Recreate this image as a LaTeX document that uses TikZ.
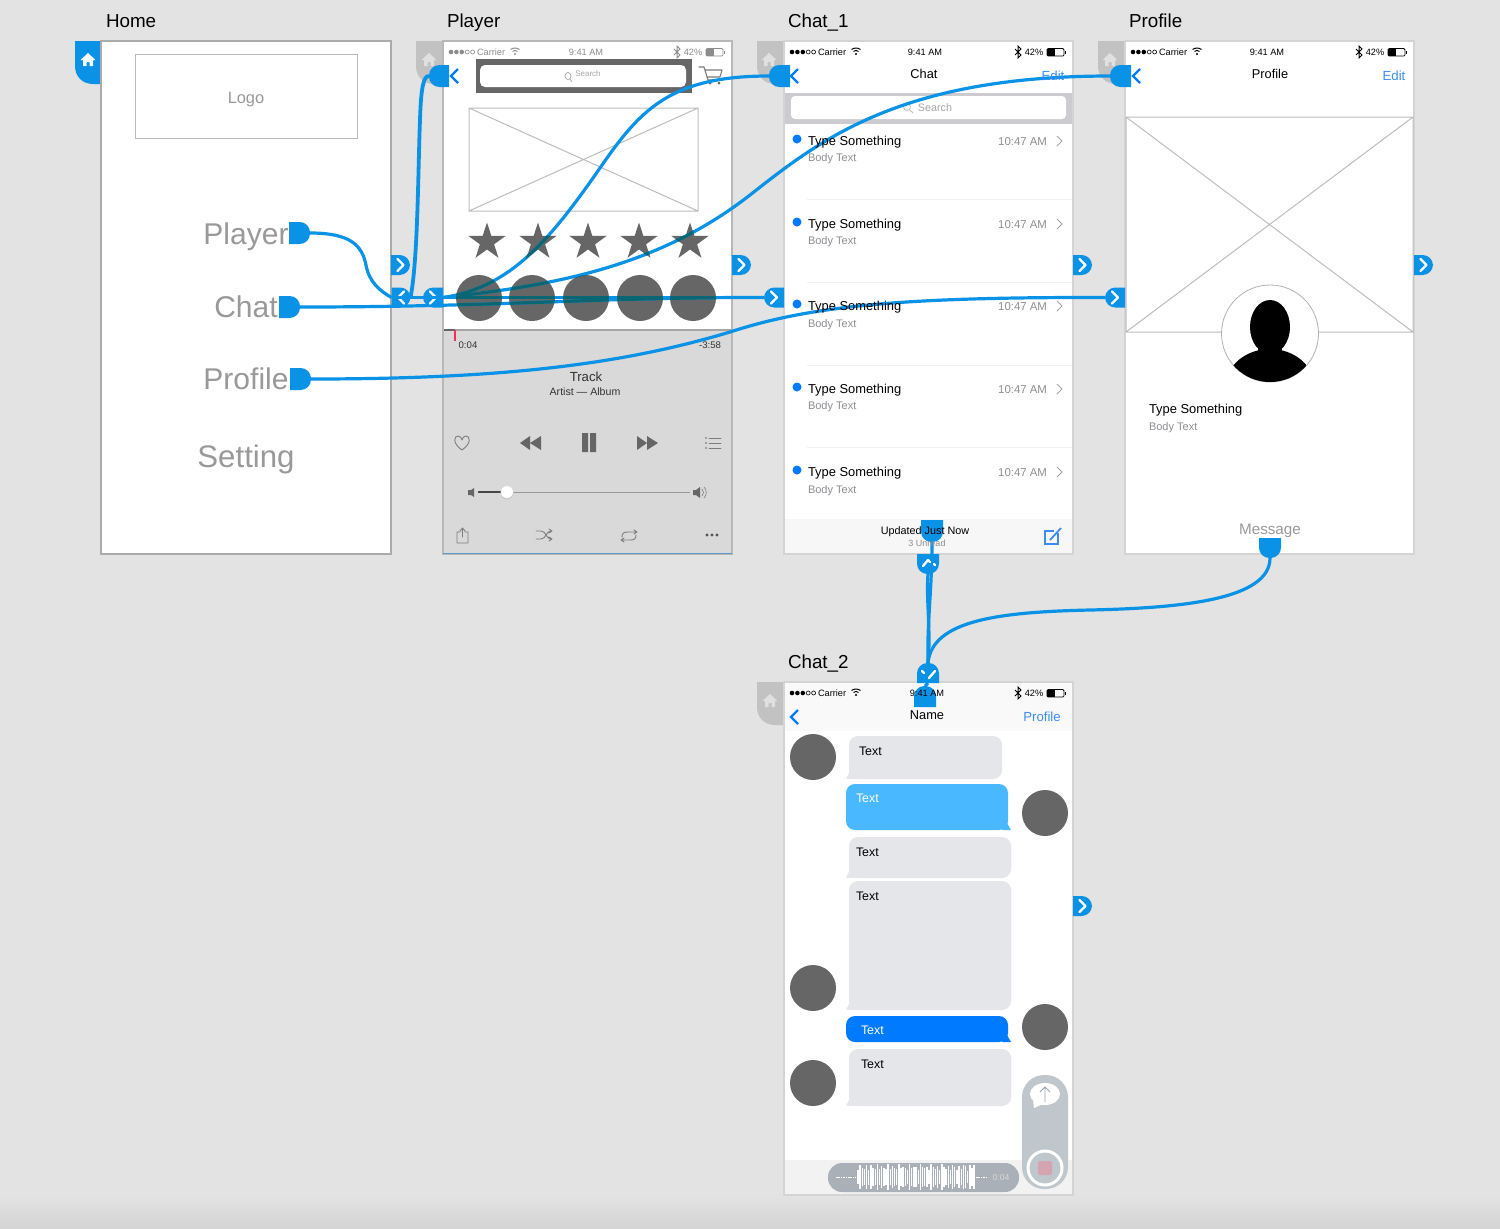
\documentclass[tikz,border=0pt]{standalone}
\usepackage{fontspec}
\setmainfont{Liberation Sans}
\usetikzlibrary{shapes.geometric}
\definecolor{bgc}{HTML}{E3E3E3}
\definecolor{hblue}{HTML}{0A92E6}
\definecolor{hdark}{HTML}{0A6672}
\definecolor{iblue}{HTML}{007AFF}
\definecolor{lblue}{HTML}{3B8CF5}
\definecolor{dk}{HTML}{666666}
\definecolor{gt}{HTML}{8E8E93}
\definecolor{hm}{HTML}{999999}
\definecolor{btn}{HTML}{E5E6EA}
\definecolor{sband}{HTML}{CBCBD0}
\definecolor{pillA}{HTML}{A9B0B8}
\definecolor{pillB}{HTML}{C0C7CC}
\definecolor{redsq}{HTML}{D4A5B0}
\definecolor{arrowc}{HTML}{9AA5B5}
\definecolor{sky}{HTML}{4AB8FF}
\definecolor{pbot}{HTML}{5B9BC4}
\definecolor{redl}{HTML}{FF2D55}
\newcounter{tc}
\newcommand\fs[1]{\fontsize{#1}{#1}\selectfont}
\newcommand\tx[4][]{\stepcounter{tc}\node[txt,#1] (t\thetc) at (#2,#3) {\setbox0=\hbox{#4}\ht0=0pt \dp0=0pt \rule{0pt}{.72em}\box0};}
\newcommand\hb[5]{\node[hbx,minimum width=#4*0.5pt,minimum height=#5*0.5pt] (#1) at (#2,#3) {};}
\newcommand\roundL[1]{\fill[hblue] (#1.north east) [rounded corners=5.2pt] -- (#1.north west) -- (#1.south west) [sharp corners] -- (#1.south east) -- cycle;}
\newcommand\roundR[1]{\fill[hblue] (#1.north west) [rounded corners=5.2pt] -- (#1.north east) -- (#1.south east) [sharp corners] -- (#1.south west) -- cycle;}
\newcommand\roundB[1]{\fill[hblue] (#1.north west) -- (#1.north east) [rounded corners=5.2pt] -- (#1.south east) -- (#1.south west) [sharp corners] -- cycle;}
\newcommand\roundT[1]{\fill[hblue] (#1.south west) -- (#1.south east) [rounded corners=5.2pt] -- (#1.north east) -- (#1.north west) [sharp corners] -- cycle;}
\newcommand\chevR[1]{\draw[chev] ([shift={(-3,-6)}]#1.center) -- ([shift={(3,0)}]#1.center) -- ([shift={(-3,6)}]#1.center);}
\newcommand\chevL[1]{\draw[chev] ([shift={(3,-6)}]#1.center) -- ([shift={(-3,0)}]#1.center) -- ([shift={(3,6)}]#1.center);}
\newcommand\house[3]{\fill[#3,shift={(#1,#2)}] (0,-7) -- (7.5,0) -- (5,0) -- (5,6) -- (1.5,6) -- (1.5,2) -- (-1.5,2) -- (-1.5,6) -- (-5,6) -- (-5,0) -- (-7.5,0) -- cycle;}
\newcommand\sidetab[3]{\fill[#1] (#2,#3) -- (#2,#3+25) .. controls (#2,#3+36) and (#2+8,#3+43) .. (#2+18,#3+43) -- (#2+27,#3+43) -- (#2+27,#3) -- cycle;}
\newcommand\statusbar[4]{%
 \begin{scope}[shift={(#1,#2)}]
 \foreach \i in {0,1,2} \fill[#3] (8+5.4*\i,0) circle (2.3);
 \foreach \i in {3,4} \draw[#3,line width=.3pt] (8+5.4*\i,0) circle (2);
 \tx[anchor=west,text=#3,font=\fs{4.6}]{34}{0}{Carrier}
 \draw[#3,line width=.5pt] (67.5,-2.5) .. controls (70,-4.5) and (74,-4.5) .. (76.5,-2.5);
 \draw[#3,line width=.5pt] (69.5,-.5) .. controls (71,-2) and (73,-2) .. (74.5,-.5);
 \fill[#3] (72,2) circle (1.1);
 \tx[text=#3,font=\fs{4.6}]{#4}{0}{9:41 AM}
 \draw[#3,line width=.5pt] (231,-3) -- (237,3) -- (234,6) -- (234,-6) -- (237,-3) -- (231,3);
 \tx[text=#3,font=\fs{4.6}]{250}{0}{42\%}
 \draw[#3,line width=.4pt,rounded corners=.6pt] (263,-3.5) rectangle (280,4);
 \fill[#3] (263,-3.5) rectangle (271,4);
 \fill[#3] (281,-1.5) rectangle (282.2,2);
 \end{scope}}
\newcommand\backchev[2]{\draw[iblue,line width=1.2pt,line join=miter] (#1+7,#2-7) -- (#1,#2) -- (#1+7,#2+7);}
\newcommand\placeholder[4]{\draw[ph] (#1,#2) rectangle (#3,#4) (#1,#2) -- (#3,#4) (#1,#4) -- (#3,#2);}
\newcommand\chatrow[3]{%
 \fill[iblue] (797,#1-2) circle (4.5);
 \tx[anchor=west,font=\fs{6.45}]{808}{#1}{Type Something}
 \tx[anchor=west,text=gt,font=\fs{5.5}]{808}{#2}{Body Text}
 \tx[anchor=east,text=gt,font=\fs{5.7}]{1047}{#1}{10:47 AM}
 \draw[black!35,line width=.45pt] (1057,#1-5) -- (1062,#1) -- (1057,#1+5);
 \ifx#3y\draw[black!6,line width=.5pt] (807,#2+41) -- (1072,#2+41);\fi}
\newcommand\bubG[4]{\fill[btn,rounded corners=4.5pt] (#1,#2) rectangle (#3,#4);\fill[btn] (#1+1,#4-8) -- (#1-3,#4-.3) -- (#1+7,#4) -- cycle;}
\newcommand\bubB[5]{\fill[#5,rounded corners=4.5pt] (#1,#2) rectangle (#3,#4);\fill[#5] (#3-1,#4-7) -- (#3+3,#4) -- (#3-6,#4) -- cycle;}
% all connectors, in a given colour
\newcommand\allconn[1]{%
\draw[conn,#1] (hPlayer.east) .. controls (350,233) and (362,245) .. (366,265) .. controls (369,282) and (380,291) .. (tabA.west);
\draw[conn,#1] (hChat.east) .. controls (500,307) and (600,297) .. (tabC.west);
\draw[conn,#1] (tabB.east) -- (tabC.west);
\draw[conn,#1] (tabA.east) -- (tabB.west);
\draw[conn,#1,line width=1.9pt] (tabA.east) .. controls (418,260) and (418,170) .. (420,120) .. controls (421,85) and (424,76) .. (backP.west);
\draw[conn,#1] (tabB.east) .. controls (510,288) and (550,240) .. (600,168) .. controls (640,110) and (670,76) .. (backC.west);
\draw[conn,#1] (tabB.east) .. controls (560,285) and (660,265) .. (750,195) .. controls (820,140) and (900,76) .. (backF.west);
\draw[conn,#1] (hProfile.east) .. controls (500,379) and (620,365) .. (730,332) .. controls (810,306) and (900,297) .. (tabD.west);
\draw[conn,#1] (hList.south) .. controls (932,590) and (927,620) .. (tabN.north);
\draw[conn,#1] (tabU.south) .. controls (926,600) and (931,630) .. (tabN.north);
\draw[conn,#1] (hMsg.south) .. controls (1270,600) and (1180,608) .. (1090,610) .. controls (1000,612) and (932,620) .. (tabN.north);
\draw[conn,#1] (tabN.south) -- (hName.north);}
\tikzset{x=0.5pt,y=-0.5pt,
 txt/.style={inner sep=0pt,outer sep=0pt},
 hbx/.style={inner sep=0pt,outer sep=0pt,draw=none,fill=none,rectangle},
 pagebox/.style={fill=white,draw=#1,line width=1pt},
 chev/.style={white,line width=1.2pt,line cap=round,line join=round},
 conn/.style={hblue,line width=1.6pt},
 tabg/.style={black!24},
 ph/.style={draw=black!26,line width=.5pt},
 starn/.style={star,star points=5,star point ratio=2.618,fill=dk,draw=none,minimum size=19.5pt,inner sep=0pt},
 disc/.style={circle,fill=dk,draw=none,minimum size=23pt,inner sep=0pt},
 ic/.style={draw=dk!85,line width=.45pt,line cap=round,line join=round},
}
\begin{document}
\begin{tikzpicture}
\useasboundingbox (0,0) rectangle (1500,1228);
\fill[bgc] (0,0) rectangle (1500,1195);
\shade[top color=bgc,bottom color=black!17] (0,1195) rectangle (1500,1228);
% ---- side tabs
\sidetab{hblue}{75}{41}
\sidetab{tabg}{416}{41}\sidetab{tabg}{757}{41}\sidetab{tabg}{1098}{41}\sidetab{tabg}{757}{682}
% ---- pages
\draw[pagebox=black!33] (101,41) rectangle (391,554);
\draw[pagebox=black!28] (443,41) rectangle (732,554);
\draw[pagebox=black!17] (784,41) rectangle (1073,554);
\draw[pagebox=black!17] (1125,41) rectangle (1414,554);
\draw[pagebox=black!17] (784,682) rectangle (1073,1195);
\house{88}{60}{white}\house{429}{60}{white!88!black}\house{769}{60}{white!88!black}\house{1110}{60}{white!88!black}\house{770}{701}{white!88!black}
% ---- Home content
\draw[draw=black!28,line width=.5pt] (135,54) rectangle (357,138);
% ---- Player page shapes
\fill[dk] (476,59) rectangle (692,93);
\fill[white,rounded corners=2.5pt] (480,65) rectangle (686,87);
\draw[black!35,line width=.35pt] (568,76) ellipse (3 and 3.5) (570,79) -- (572,82);
\draw[ic,line width=.55pt] (699,67) -- (704,67) -- (708,80) -- (720,80) (705,70) -- (722,70) -- (720,77) -- (707,77);
\fill[dk] (710,83) circle (1.5) (719,83) circle (1.5);
\placeholder{469}{108}{698}{211}
\foreach \n/\x in {1/487,2/538,3/588,4/639,5/690} \node[starn] (star\n) at (\x,242) {};
\foreach \n/\x in {1/479,2/532,3/586,4/640,5/693} \node[disc] (disc\n) at (\x,298) {};
\fill[black!15] (444,331) rectangle (731,553);
\fill[black!35] (444,329) rectangle (731,331);
\fill[dk] (444,329) rectangle (455,331);
\draw[redl,line width=.6pt] (455,330) -- (455,341);
\draw[ic] (462,450) .. controls (452,443) and (454,436) .. (458,436) .. controls (460,436) and (462,438) .. (462,440) .. controls (462,438) and (464,436) .. (466,436) .. controls (470,436) and (472,443) .. (462,450) -- cycle;
\fill[dk] (520,443) -- (530,436) -- (530,450) -- cycle (530,443) -- (541,436) -- (541,450) -- cycle;
\fill[dk] (582,433) rectangle (588,452) (590,433) rectangle (596,452);
\fill[dk] (637,436) -- (647,443) -- (637,450) -- cycle (647,436) -- (658,443) -- (647,450) -- cycle;
\foreach \y in {438,443,448} {\draw[ic] (709,\y) -- (721,\y);\fill[dk] (706,\y) circle (.8);}
\draw[black!40,line width=.5pt] (478,492) -- (690,492);
\draw[dk!70!black,line width=.75pt] (478,492) -- (507,492);
\fill[black!20] (507,493) circle (6.6);
\fill[white] (507,492) circle (6);
\fill[dk] (468,490) -- (471,490) -- (474,488) -- (474,497) -- (471,495) -- (468,495) -- cycle;
\fill[dk] (693,490) -- (696,490) -- (700,487) -- (700,498) -- (696,495) -- (693,495) -- cycle;
\draw[ic,line width=.3pt] (702,489) .. controls (704,491) and (704,494) .. (702,496) (704,487) .. controls (707,490) and (707,495) .. (704,498);
\draw[ic] (460,532) -- (457,532) -- (457,543) -- (468,543) -- (468,532) -- (465,532) (462.5,537) -- (462.5,528) (460,531) -- (462.5,528) -- (465,531);
\draw[ic] (536,531) -- (541,531) .. controls (546,531) and (546,539) .. (551,539) (536,539) -- (541,539) .. controls (546,539) and (546,531) .. (551,531) (549,529) -- (552,531) -- (549,533) (549,537) -- (552,539) -- (549,541);
\draw[ic] (622,537) .. controls (622,533) and (624,532) .. (628,532) -- (636,532) (634,530) -- (637,532) -- (634,534) (636,535) .. controls (636,539) and (634,540) .. (630,540) -- (622,540) (624,538) -- (621,540) -- (624,542);
\foreach \x in {707,712,717} \fill[dk!80!black] (\x,535) circle (1.6);
\draw[pbot,line width=.8pt] (443,553.5) -- (732,553.5);
% ---- Chat_1 shapes
\fill[sband] (785,93) rectangle (1072,124);
\fill[white,rounded corners=2pt] (791,96) rectangle (1066,119);
\draw[black!25,line width=.4pt] (907,107) circle (3.5) (910,110) -- (913,113);
\fill[black!3] (785,519) rectangle (1072,553);
\draw[lblue,line width=.6pt] (1058,533) -- (1058,544) -- (1045,544) -- (1045,531) -- (1054,531);
\draw[lblue,line width=.9pt] (1050,540) -- (1061,528);
% ---- Profile shapes
\placeholder{1126}{117}{1413}{332}
\fill[white] (1270,333.5) circle (48.5);
\draw[black!30,line width=.4pt] (1270,333.5) circle (48.5);
\begin{scope}
\clip (1270,333.5) circle (48.5);
\fill[black] (1270,327) ellipse (20 and 27);
\fill[black] (1270,386) ellipse (44 and 37);
\fill[black] (1258,345) rectangle (1282,360);
\end{scope}
% ---- Chat_2 shapes
\fill[black!2.5] (785,683) rectangle (1072,731);
\foreach \n/\x/\y in {a/813/757,b/1045/813,c/813/988,d/1045/1027,e/813/1083} \node[disc] (av\n) at (\x,\y) {};
\bubG{849}{736}{1002}{779}
\bubB{846}{784}{1008}{830}{sky}
\bubG{849}{837}{1011}{878}
\bubG{849}{881}{1011}{1010}
\bubB{846}{1016}{1008}{1042}{iblue}
\bubG{849}{1049}{1011}{1106}
\fill[black!5] (785,1160) rectangle (1072,1194);
\fill[pillA,rounded corners=7pt] (828,1163) rectangle (1019,1192);
\foreach \k in {0,...,54} {\pgfmathsetmacro\xx{858+2.15*\k}\pgfmathsetmacro\hh{4+6*abs(sin(\k*71))+3*abs(cos(\k*37))}\draw[white,line width=.7pt] (\xx,1177-\hh) -- (\xx,1177+\hh);}
\draw[white,line width=.5pt,dash pattern=on .8pt off .4pt] (836,1177) -- (856,1177) (976,1177) -- (987,1177);
\fill[pillB,rounded corners=11pt] (1022,1075) rectangle (1068,1189);
\fill[white] (1045,1094) ellipse (15 and 11);
\fill[white] (1033,1100) -- (1034,1108) -- (1043,1104) -- cycle;
\draw[arrowc,line width=.4pt] (1045,1102) -- (1045,1087) (1040,1092) -- (1045,1087) -- (1050,1092);
\draw[white,line width=1.5pt] (1045,1168) circle (17);
\fill[redsq,rounded corners=1pt] (1038,1161) rectangle (1052,1175);
% ---- named handle and tab anchors
\hb{hPlayer}{299.5}{233}{21}{22}
\hb{hChat}{289.5}{307}{21}{22}
\hb{hProfile}{300.5}{379}{21}{22}
\hb{tabA}{401}{297.5}{19}{20}
\hb{tabB}{433}{297.5}{20}{20}
\hb{tabC}{774}{297.5}{20}{20}
\hb{tabD}{1115}{297.5}{20}{20}
\hb{backP}{439}{76}{20}{22}
\hb{backC}{779.5}{76}{21}{22}
\hb{backF}{1120.5}{76}{21}{22}
\hb{hList}{932}{531}{22}{22}
\hb{tabU}{928}{564}{22}{20}
\hb{tabN}{928}{673}{22}{20}
\hb{hName}{925}{696.5}{22}{21}
\hb{hMsg}{1270}{548}{22}{20}
\hb{nA}{400.5}{265}{19}{20}
\hb{nB}{741.5}{265}{19}{20}
\hb{nC}{1082.5}{265}{19}{20}
\hb{nD}{1423.5}{265}{19}{20}
\hb{nE}{1082.5}{906}{19}{20}
% ---- connectors
\allconn{hblue}
% darker where they cross the discs and stars of the Player page
\foreach \n in {1,...,5} {\begin{scope}\clip (disc\n.center) circle (23);\allconn{hdark}\end{scope}}
\foreach \n in {1,...,5} {\begin{scope}\clip (star\n.outer point 1) -- (star\n.inner point 1) -- (star\n.outer point 2) -- (star\n.inner point 2) -- (star\n.outer point 3) -- (star\n.inner point 3) -- (star\n.outer point 4) -- (star\n.inner point 4) -- (star\n.outer point 5) -- (star\n.inner point 5) -- cycle;\allconn{hdark}\end{scope}}
% ---- handles and tabs
\roundR{hPlayer}\roundR{hChat}\roundR{hProfile}
\roundL{backP}\roundL{backC}\roundL{backF}
\roundB{hList}\roundB{hMsg}\roundT{hName}\roundB{tabU}\roundT{tabN}
\roundR{tabA}\roundL{tabB}\roundL{tabC}\roundL{tabD}
\foreach \n in {nA,nB,nC,nD,nE} {\roundR{\n}\chevR{\n}}
\chevL{tabA}\chevR{tabB}\chevR{tabC}\chevR{tabD}
\draw[chev] (923,566) -- (928,560) -- (930,562);
\draw[chev] (934,564) -- (935,565);
\draw[chev] (922,671) -- (924,673);
\draw[chev] (929,678) -- (935,671);
\draw[hblue,line width=1.4pt] (tabA.west) -- (tabA.east);
\draw[hblue,line width=1.4pt] (tabB.west) -- (tabB.east);
% ---- back chevrons
\backchev{451}{76}\backchev{791}{76}\backchev{1133}{76}\backchev{791}{717}
% ---- text
\tx[anchor=west,font=\fs{9.4}]{106}{21}{Home}
\tx[anchor=west,font=\fs{9.4}]{447}{21}{Player}
\tx[anchor=west,font=\fs{9.4}]{788}{21}{Chat\_1}
\tx[anchor=west,font=\fs{9.4}]{1129}{21}{Profile}
\tx[anchor=west,font=\fs{9.4}]{788}{662}{Chat\_2}
\tx[text=hm,font=\fs{8.2}]{246}{98}{Logo}
\tx[text=hm,font=\fs{15}]{246}{234}{Player}
\tx[text=hm,font=\fs{15}]{246}{307}{Chat}
\tx[text=hm,font=\fs{15}]{246}{379}{Profile}
\tx[text=hm,font=\fs{15.6}]{246}{456}{Setting}
\statusbar{443}{52}{black!45}{143}
\statusbar{784}{52}{black}{141}
\statusbar{1125}{52}{black}{142}
\statusbar{784}{693}{black}{143}
\tx[text=black!35,font=\fs{4}]{588}{74}{Search}
\tx[font=\fs{4.8},text=black!80]{468}{345}{0:04}
\tx[font=\fs{4.8},text=black!80]{710}{345}{-3:58}
\tx[font=\fs{6.6},text=black!80]{586}{377}{Track}
\tx[font=\fs{5.3},text=black!80]{585}{392}{Artist — Album}
\tx[font=\fs{6.4}]{924}{74}{Chat}
\tx[font=\fs{6.6},text=lblue]{1053}{76}{Edit}
\tx[font=\fs{5.4},text=black!35]{935}{108}{Search}
\chatrow{141}{158}{y}
\chatrow{224}{241}{y}
\chatrow{306}{324}{y}
\chatrow{389}{406}{y}
\chatrow{472}{490}{n}
\tx[font=\fs{5.4}]{925}{531}{Updated Just Now}
\tx[font=\fs{4.5},text=gt]{927}{543}{3 Unread}
\tx[font=\fs{6.4}]{1270}{74}{Profile}
\tx[font=\fs{6.6},text=lblue]{1394}{76}{Edit}
\tx[anchor=west,font=\fs{6.45}]{1149}{409}{Type Something}
\tx[anchor=west,text=gt,font=\fs{5.5}]{1149}{427}{Body Text}
\tx[text=hm,font=\fs{7.6}]{1270}{529}{Message}
\tx[font=\fs{6.4}]{927}{715}{Name}
\tx[font=\fs{6.6},text=lblue]{1042}{717}{Profile}
\tx[anchor=west,font=\fs{6.2}]{859}{751}{Text}
\tx[anchor=west,font=\fs{6.2},text=white]{856}{798}{Text}
\tx[anchor=west,font=\fs{6.2}]{856}{852}{Text}
\tx[anchor=west,font=\fs{6.2}]{856}{896}{Text}
\tx[anchor=west,font=\fs{6.2},text=white]{861}{1030}{Text}
\tx[anchor=west,font=\fs{6.2}]{861}{1064}{Text}
\tx[font=\fs{4.3},text=white!85!black]{1001}{1177}{0:04}
\end{tikzpicture}
\end{document}
